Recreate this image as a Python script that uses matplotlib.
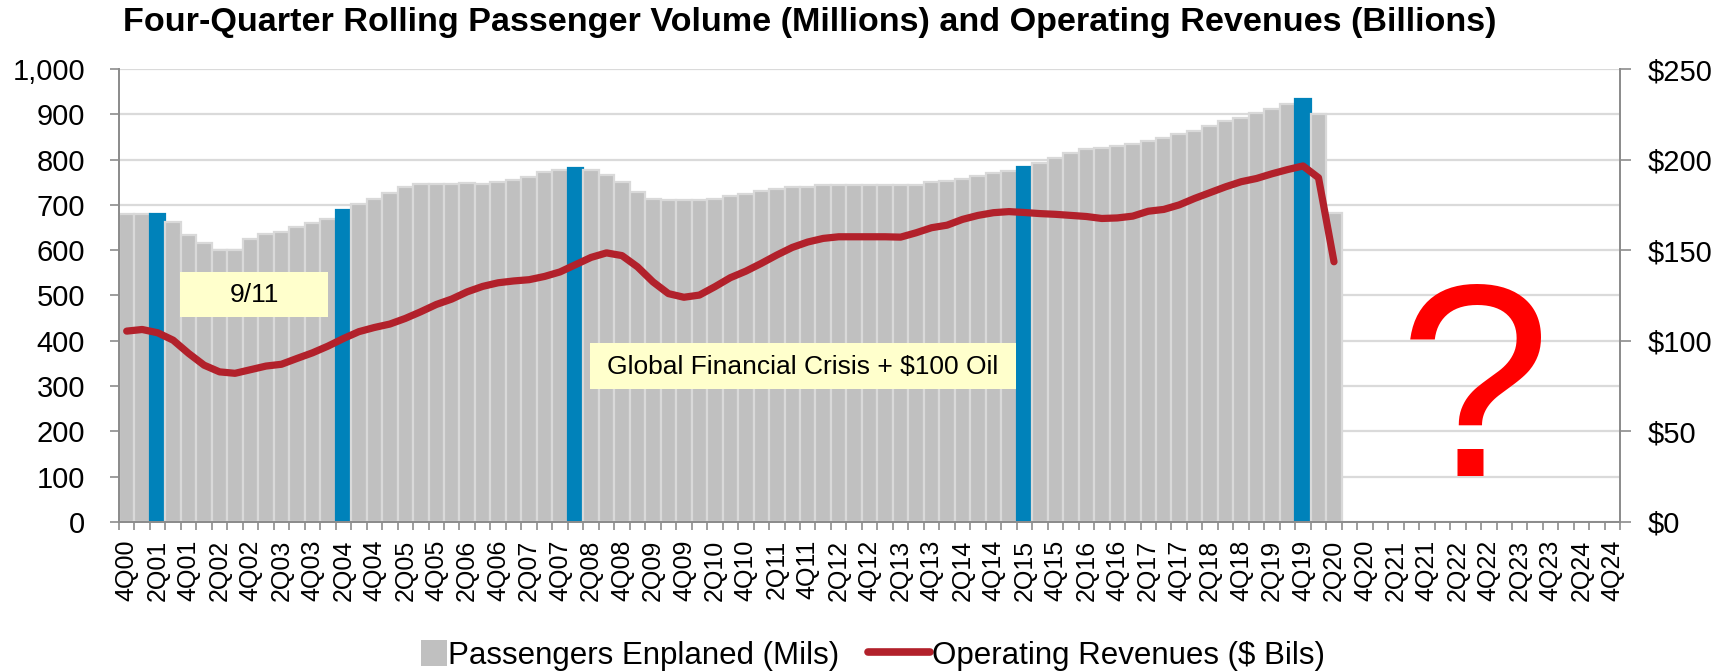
import matplotlib
matplotlib.use("Agg")
import matplotlib.pyplot as plt
from matplotlib.patches import Rectangle, Patch
from matplotlib.lines import Line2D
from matplotlib.legend_handler import HandlerPatch
import numpy as np

plt.rcParams['font.family'] = ['Liberation Sans', 'DejaVu Sans']

# quarters 4Q00 .. 4Q24
quarters = ["4Q00"] + [f"{q}Q{y:02d}" for y in range(1, 25) for q in range(1, 5)]

# four-quarter rolling passengers enplaned (millions), 4Q00 .. 2Q20
passengers = [
    679, 681, 681, 663, 633, 615, 600, 600, 624, 635, 641, 652, 659, 669,
    689, 701, 714, 727, 739, 746, 747, 747, 749, 747, 751, 755, 762, 772,
    778, 781, 777, 766, 751, 729, 714, 711, 711, 711, 714, 719, 725, 730,
    736, 739, 740, 744, 744, 744, 744, 744, 744, 745, 750, 753, 757, 764,
    770, 775, 784, 793, 804, 814, 823, 826, 830, 834, 842, 847, 856, 864,
    874, 886, 893, 902, 911, 922, 935, 900, 683,
]

# operating revenues ($ billions)
revenues = [
    105.3, 106.2, 104.4, 100.3, 93.0, 86.5, 82.8, 82.0, 84.0, 86.0, 87.0,
    90.2, 93.3, 97.0, 101.2, 105.0, 107.3, 109.2, 112.3, 116.0, 120.0,
    123.0, 127.0, 130.0, 132.0, 133.0, 133.7, 135.5, 138.0, 142.0, 146.0,
    148.5, 147.0, 140.8, 132.5, 126.0, 124.0, 125.2, 129.8, 134.8, 138.4,
    142.7, 147.3, 151.5, 154.5, 156.5, 157.4, 157.4, 157.4, 157.4, 157.2,
    159.6, 162.4, 163.8, 167.0, 169.2, 170.7, 171.3, 170.8, 170.2, 169.8,
    169.2, 168.6, 167.5, 167.8, 168.8, 171.5, 172.5, 175.0, 178.6, 181.8,
    185.0, 187.8, 189.6, 192.2, 194.5, 196.5, 190.0, 143.6,
]

# highlighted quarters (blue bars)
highlight = ["2Q01", "2Q04", "1Q08", "2Q15", "4Q19"]

GRAY = "#C0C0C0"
SEP = "#D9D9D9"
BLUE = "#0082BA"
RED = "#B2212B"
AXC = "#8C8C8C"


def small_square(legend, orig_handle, xdescent, ydescent, width, height, fontsize):
    # square swatch pushed to the right edge of the handle box
    side = height * 1.05
    return Rectangle((width - side - xdescent, (height - side) / 2 - ydescent),
                     side, side)


fig = plt.figure(figsize=(17.19, 6.72), dpi=100)
ax = fig.add_axes([0.0692, 0.2235, 0.8734, 0.6737])
ax2 = ax.twinx()

x = np.arange(len(passengers))
colors = [BLUE if quarters[i] in highlight else GRAY for i in x]
edges = [BLUE if quarters[i] in highlight else SEP for i in x]
ax.bar(x, passengers, width=1.0, color=colors, edgecolor=edges,
       linewidth=1.6, zorder=2)

ax.set_xlim(-0.5, len(quarters) - 0.5)
ax.set_ylim(0, 1000)
ax.set_yticks(range(0, 1001, 100))
ax.set_yticklabels([f"{v:,}" for v in range(0, 1001, 100)])
ax.yaxis.grid(True, color="#DADADA", linewidth=1.6)
ax.set_axisbelow(True)

ax.set_xticks(np.arange(0, len(quarters), 2))
ax.set_xticklabels(quarters[::2], rotation=90)
ax.set_xticks(np.arange(-0.5, len(quarters), 1), minor=True)
ax.tick_params(axis="x", which="major", length=0, pad=13, labelsize=18)
ax.tick_params(axis="x", which="minor", length=6, color=AXC, width=1.2)
ax.tick_params(axis="y", length=6.5, color=AXC, width=1.2, labelsize=21, pad=18)

ax2.plot(x, revenues, color=RED, linewidth=5.2, solid_capstyle="round",
         solid_joinstyle="round", zorder=5)
ax2.set_ylim(0, 250)
ax2.set_yticks(range(0, 251, 50))
ax2.set_yticklabels([f"${v}" for v in range(0, 251, 50)])
ax2.tick_params(axis="y", length=8, color=AXC, width=1.2, labelsize=21, pad=12)

for a in (ax, ax2):
    a.spines["top"].set_visible(False)
    for s in ("left", "right", "bottom"):
        a.spines[s].set_color(AXC)
        a.spines[s].set_linewidth(1.3)

# annotation boxes
ax.add_patch(Rectangle((3.46, 452), 9.55, 100, facecolor="#FFFFCC",
                       edgecolor="none", zorder=6))
ax.text(8.24, 500, "9/11", ha="center", va="center", fontsize=19, zorder=7)
ax.add_patch(Rectangle((29.93, 293), 27.55, 102, facecolor="#FFFFCC",
                       edgecolor="none", zorder=6))
ax.text(43.7, 342, "Global Financial Crisis + $100 Oil", ha="center",
        va="center", fontsize=19, zorder=7)

ax.text(87.1, 258, "?", ha="center", va="center", fontsize=197,
        color="#FF0000", zorder=7)

fig.text(0.0714, 0.967, "Four-Quarter Rolling Passenger Volume (Millions) and Operating Revenues (Billions)",
         ha="left", va="center", fontsize=24.6, fontweight="bold")

handles = [Patch(facecolor=GRAY, edgecolor="none"),
           Line2D([0], [0], color=RED, linewidth=5.5, solid_capstyle="round")]
fig.legend(handles, ["Passengers Enplaned (Mils)", "Operating Revenues ($ Bils)"],
           loc="center", bbox_to_anchor=(0.497, 0.024), ncol=2, frameon=False,
           fontsize=22.5, handletextpad=0.05, columnspacing=0.9, handlelength=2.0,
           handleheight=0.8,
           handler_map={Patch: HandlerPatch(patch_func=small_square)})

fig.savefig("out.png", dpi=100)
